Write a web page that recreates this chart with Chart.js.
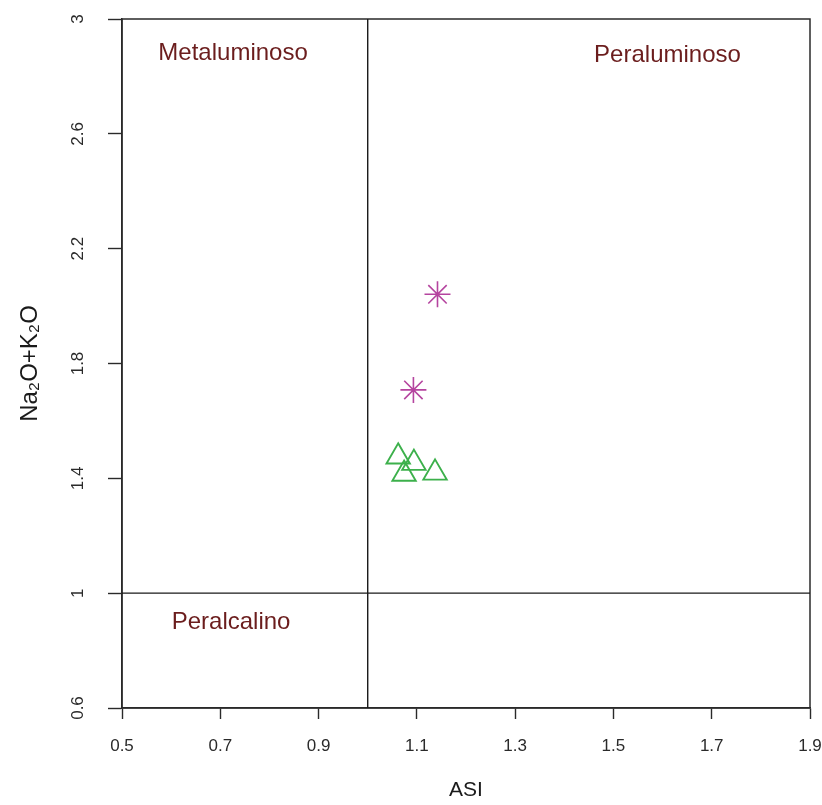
<!DOCTYPE html>
<html>
<head>
<meta charset="utf-8">
<script src="https://cdn.jsdelivr.net/npm/chart.js@4.4.1/dist/chart.umd.min.js"></script>
<style>
  html, body { margin: 0; padding: 0; background: #ffffff; overflow: hidden; }
  #wrap { width: 822px; height: 805px; }
  canvas { display: block; }
</style>
</head>
<body>
<div id="wrap"><canvas id="c" width="822" height="805"></canvas></div>
<script>
// ---- data ----
const asteriskASI = [1.142, 1.093];
const asteriskAlk = [2.041, 1.708];
const triangleASI = [1.062, 1.094, 1.074, 1.137];
const triangleAlk = [1.475, 1.453, 1.415, 1.419];

const xTicks = [0.5, 0.7, 0.9, 1.1, 1.3, 1.5, 1.7, 1.9];
const yTicks = [0.6, 1, 1.4, 1.8, 2.2, 2.6, 3];

const boundaryASI = 1;   // vertical divider
const boundaryAlk = 1;   // horizontal divider

const regionNames = ['Metaluminoso', 'Peraluminoso', 'Peralcalino'];
const regionASI = [0.726, 1.610, 0.722];
const regionAlk = [2.880, 2.875, 0.899];

const xMin = xTicks[0], xMax = xTicks[xTicks.length - 1];
const yMin = yTicks[0], yMax = yTicks[yTicks.length - 1];

const toPts = (xs, ys) => xs.map((x, i) => ({ x: x, y: ys[i] }));

const boxPlugin = {
  id: 'box',
  beforeDatasetsDraw(chart) {
    const { ctx, chartArea: a } = chart;
    ctx.save();
    ctx.strokeStyle = '#2a2a2a';
    ctx.lineWidth = 1.5;
    ctx.strokeRect(a.left, a.top, a.right - a.left, a.bottom - a.top);
    ctx.restore();
  }
};

const labelPlugin = {
  id: 'regionLabels',
  afterDatasetsDraw(chart) {
    const { ctx, scales } = chart;
    ctx.save();
    ctx.fillStyle = '#6b1d1d';
    ctx.font = '24px "Liberation Sans", Arial, sans-serif';
    ctx.textAlign = 'center';
    ctx.textBaseline = 'middle';
    regionNames.forEach((n, i) => {
      ctx.fillText(n, scales.x.getPixelForValue(regionASI[i]), scales.y.getPixelForValue(regionAlk[i]));
    });
    ctx.restore();
  }
};

const FONT = '"Liberation Sans", Arial, sans-serif';

new Chart(document.getElementById('c'), {
  type: 'scatter',
  data: {
    datasets: [
      {
        type: 'line',
        data: [{ x: boundaryASI, y: yMin }, { x: boundaryASI, y: yMax }],
        borderColor: '#1a1a1a', borderWidth: 1.4, pointRadius: 0, fill: false
      },
      {
        type: 'line',
        data: [{ x: xMin, y: boundaryAlk }, { x: xMax, y: boundaryAlk }],
        borderColor: '#1a1a1a', borderWidth: 1.4, pointRadius: 0, fill: false
      },
      {
        data: toPts(asteriskASI, asteriskAlk),
        pointStyle: 'star', pointRadius: 13, pointHoverRadius: 13,
        borderColor: '#b5449f', backgroundColor: 'rgba(0,0,0,0)', borderWidth: 1.6
      },
      {
        data: toPts(triangleASI, triangleAlk),
        pointStyle: 'triangle', pointRadius: 13.5, pointHoverRadius: 13.5,
        borderColor: '#3cb04b', backgroundColor: 'rgba(0,0,0,0)', borderWidth: 1.9
      }
    ]
  },
  options: {
    responsive: false,
    animation: false,
    layout: { autoPadding: false, padding: { top: 19, right: 12, left: 0, bottom: 0 } },
    plugins: { legend: { display: false }, tooltip: { enabled: false } },
    scales: {
      x: {
        type: 'linear', min: xMin, max: xMax,
        afterFit(s) { s.height = 97; s.paddingLeft = 0; s.paddingRight = 0; },
        afterBuildTicks(s) { s.ticks = xTicks.map(v => ({ value: v })); },
        grid: { display: true, drawOnChartArea: false, drawTicks: true, tickLength: 11, tickColor: '#2a2a2a', tickWidth: 1.4 },
        border: { display: true, color: '#2a2a2a', width: 1.5 },
        ticks: {
          padding: 17, color: '#2a2a2a',
          font: { family: FONT, size: 17 },
          callback: v => String(v)
        },
        title: {
          display: true, text: 'ASI', color: '#1a1a1a',
          font: { family: FONT, size: 21 },
          padding: { top: 0, bottom: 2 }
        }
      },
      y: {
        type: 'linear', min: yMin, max: yMax,
        afterFit(s) { s.width = 122; s.paddingTop = 0; s.paddingBottom = 0; },
        afterBuildTicks(s) { s.ticks = yTicks.map(v => ({ value: v })); },
        grid: { display: true, drawOnChartArea: false, drawTicks: true, tickLength: 14, tickColor: '#2a2a2a', tickWidth: 1.4 },
        border: { display: true, color: '#2a2a2a', width: 1.5 },
        ticks: {
          padding: 18, color: '#2a2a2a', minRotation: 90, maxRotation: 90, crossAlign: 'center',
          font: { family: FONT, size: 17 },
          callback: v => String(v)
        },
        title: {
          display: true, text: 'Na\u2082O+K\u2082O', color: '#1a1a1a',
          font: { family: FONT, size: 24 },
          padding: { top: 16, bottom: 0 }
        }
      }
    }
  },
  plugins: [boxPlugin, labelPlugin]
});
</script>
</body>
</html>
